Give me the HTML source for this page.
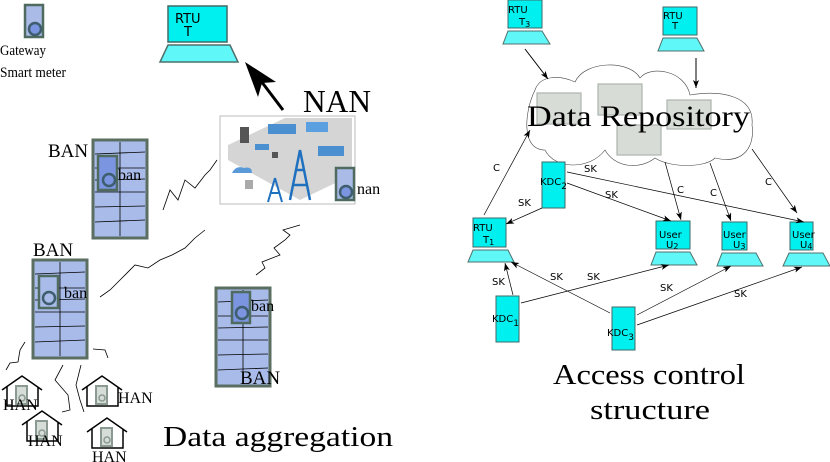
<!DOCTYPE html>
<html><head><meta charset="utf-8"><style>
html,body{margin:0;padding:0;background:#fff;}
svg{display:block;}
.s{font-family:"Liberation Serif",serif;fill:#000;}
.a{font-family:"DejaVu Sans","Liberation Sans",sans-serif;fill:#000;}
</style></head><body>
<svg width="830" height="462" viewBox="0 0 830 462" xmlns="http://www.w3.org/2000/svg">
<defs>
<marker id="ah" markerWidth="8" markerHeight="6" refX="8" refY="3" orient="auto" markerUnits="userSpaceOnUse"><path d="M0,0 L8,3 L0,6 L2,3z" fill="#000"/></marker>
<g id="meter"><rect x="0" y="0" width="18" height="32" fill="#aabbe8" stroke="#4f6a5f" stroke-width="2.5"/><circle cx="10" cy="24" r="6" fill="#7b95e0" stroke="#3e5e70" stroke-width="2.5"/></g>
<g id="bld"><rect x="0" y="0" width="54" height="98" fill="#a9bce9" stroke="#5a6e62" stroke-width="3"/>
<line x1="27" y1="2" x2="27" y2="96" stroke="#000" stroke-width="0.8"/>
<path d="M2,14 L52,12 M2,28 L52,28 M2,40 L52,39 M2,52 L52,52 M2,67 L52,66 M2,82 L52,80" stroke="#000" stroke-width="0.8" fill="none"/></g>
<g id="house"><path d="M0,14 L20,0 L40,14 M5,11 V30 H36 V11" stroke="#000" stroke-width="1.5" fill="none"/><rect x="14" y="10" width="11" height="18" fill="#d6dcd8" stroke="#8a9a90" stroke-width="2"/><circle cx="20" cy="22" r="3" fill="none" stroke="#8a9a90" stroke-width="1.5"/></g>
</defs>

<!-- LEFT SIDE -->
<use href="#meter" x="25" y="5"/>
<text class="s" x="0" y="55" font-size="15" textLength="46" lengthAdjust="spacingAndGlyphs">Gateway</text>
<text class="s" x="0" y="77" font-size="15" textLength="66" lengthAdjust="spacingAndGlyphs">Smart meter</text>

<rect x="168" y="6" width="59" height="36" fill="#00f0f0" stroke="#3f6a66" stroke-width="1.5"/>
<text class="a" x="175" y="23" font-size="13">RTU</text>
<text class="a" x="184" y="36" font-size="13">T</text>
<path d="M168,45 L230,45 L238,62 L160,62z" fill="#5ff7f7" stroke="#4f706c" stroke-width="1.5"/>
<line x1="283" y1="110" x2="258" y2="77" stroke="#000" stroke-width="3"/>
<path d="M245,62 L276,82 L262,83 L258,97z" fill="#000"/>
<text class="s" x="303" y="112" font-size="32" textLength="68" lengthAdjust="spacingAndGlyphs">NAN</text>

<rect x="220" y="116" width="135" height="88" fill="#fff" stroke="#bbb" stroke-width="1"/>
<path d="M228,145 L285,118 L352,118 L352,175 L300,200 L228,160z" fill="#d5d5d5"/>
<rect x="240" y="127" width="9" height="16" fill="#555"/>
<rect x="255" y="144" width="14" height="6" fill="#4a90d0"/>
<rect x="268" y="124" width="28" height="10" fill="#4a90d0"/>
<rect x="306" y="122" width="22" height="10" fill="#5aa0e0"/>
<rect x="318" y="146" width="26" height="10" fill="#4a90d0"/>
<rect x="272" y="152" width="6" height="6" fill="#555"/>
<path d="M232,173 q4,-8 12,-5 q8,-2 8,5z" fill="#5a9ad8"/>
<rect x="245" y="180" width="8" height="9" fill="#aaa"/>
<path d="M300,150 L290,200 M300,150 L310,200 M293,185 L307,185 M296,170 L304,170" stroke="#2070c0" stroke-width="2.5" fill="none"/>
<path d="M275,178 L268,202 M275,178 L282,202 M271,193 L279,193" stroke="#2070c0" stroke-width="2" fill="none"/>
<use href="#meter" x="336" y="168"/>
<text class="s" x="357" y="194" font-size="16">nan</text>

<text class="s" x="48" y="157" font-size="19">BAN</text>
<use href="#bld" x="93" y="140"/>
<rect x="98" y="156" width="19" height="34" fill="#7b95e0" stroke="#4f6a5f" stroke-width="2.5"/>
<circle cx="109" cy="180" r="6" fill="#7b95e0" stroke="#3e5e70" stroke-width="2.5"/>
<text class="s" x="118" y="180" font-size="16">ban</text>

<text class="s" x="33" y="256" font-size="19">BAN</text>
<use href="#bld" x="33" y="260"/>
<rect x="39" y="276" width="19" height="32" fill="#a9bce9" stroke="#4f6a5f" stroke-width="2.5"/>
<circle cx="49" cy="298" r="6" fill="#a9bce9" stroke="#3e5e70" stroke-width="2.5"/>
<text class="s" x="64" y="298" font-size="16">ban</text>

<use href="#bld" x="216" y="288"/>
<rect x="232" y="292" width="18" height="31" fill="#7b95e0" stroke="#4f6a5f" stroke-width="2.5"/>
<circle cx="242" cy="313" r="6" fill="#7b95e0" stroke="#3e5e70" stroke-width="2.5"/>
<text class="s" x="251" y="311" font-size="16">ban</text>
<text class="s" x="240" y="384" font-size="19">BAN</text>

<g stroke="#000" stroke-width="0.8" fill="none">
<path d="M163,210 L170,190 L178,200 L185,180 L195,188 L205,175 L210,170 L217,160"/>
<path d="M100,297 L110,290 L120,280 L135,265 L148,268 L160,260 L172,255 L185,248 L195,238 L205,230"/>
<path d="M256,275 L265,268 L262,262 L280,255 L274,248 L285,240 L290,235 L283,230 L300,225"/>
<path d="M6,370 L10,363 L18,362 L20,350 L25,342"/>
<path d="M93,349 L105,350 L108,358"/>
<path d="M63,365 L55,380 L68,395 L70,410 L62,412"/>
<path d="M81,365 L76,385 L80,400 L84,412"/>
</g>
<use href="#house" x="2" y="376"/>
<text class="s" x="3" y="410" font-size="16">HAN</text>
<use href="#house" x="82" y="376"/>
<text class="s" x="118" y="403" font-size="16">HAN</text>
<use href="#house" x="22" y="411"/>
<text class="s" x="28" y="446" font-size="16">HAN</text>
<use href="#house" x="87" y="418"/>
<text class="s" x="92" y="462" font-size="16">HAN</text>
<text class="s" x="163" y="446" font-size="29" textLength="230" lengthAdjust="spacingAndGlyphs">Data aggregation</text>

<!-- RIGHT SIDE -->
<path d="M535,90 C540,75 560,75 575,82 C585,60 630,60 640,78 C650,65 685,70 690,95 C720,90 755,95 752,125 C755,145 745,165 715,158 C705,168 670,168 655,158 C640,170 615,168 605,150 C590,170 555,170 545,150 C520,150 525,110 535,90z" fill="none" stroke="#444" stroke-width="0.6"/>
<g fill="#d8dcd6" stroke="#aeb5ad" stroke-width="1.2">
<rect x="537" y="93" width="44" height="31"/>
<rect x="598" y="84" width="44" height="31"/>
<rect x="667" y="100" width="44" height="29"/>
<rect x="617" y="125" width="44" height="30"/>
</g>
<text class="s" x="527" y="126" font-size="30" textLength="223" lengthAdjust="spacingAndGlyphs">Data Repository</text>

<g fill="#00f0f0" stroke="#3f6a66" stroke-width="1">
<rect x="508" y="0" width="34" height="28"/>
<rect x="663" y="7" width="34" height="28"/>
<rect x="473" y="218" width="33" height="29"/>
<rect x="656" y="221" width="34" height="28"/>
<rect x="722" y="222" width="25" height="28"/>
<rect x="790" y="222" width="23" height="28"/>
<rect x="542" y="162" width="23" height="46"/>
<rect x="496" y="296" width="23" height="46"/>
<rect x="612" y="307" width="23" height="43"/>
</g>
<g fill="#5ff7f7" stroke="#4f706c" stroke-width="1">
<path d="M508,31 L542,31 L550,44 L503,44z"/>
<path d="M663,38 L697,38 L704,51 L658,51z"/>
<path d="M473,250 L508,250 L514,262 L468,262z"/>
<path d="M656,252 L690,252 L697,265 L651,265z"/>
<path d="M722,253 L756,253 L763,266 L717,266z"/>
<path d="M789,253 L823,253 L830,266 L783,266z"/>
</g>
<g class="a" font-size="10">
<text x="508" y="13">RTU</text><text x="519" y="25">T<tspan font-size="8" dy="2">3</tspan></text>
<text x="663" y="19">RTU</text><text x="672" y="29">T</text>
<text x="473" y="231">RTU</text><text x="483" y="243">T<tspan font-size="8" dy="2">1</tspan></text>
<text x="659" y="238">User</text><text x="666" y="248">U<tspan font-size="8" dy="1">2</tspan></text>
<text x="723" y="238">User</text><text x="733" y="248">U<tspan font-size="8" dy="1">3</tspan></text>
<text x="792" y="238">User</text><text x="800" y="248">U<tspan font-size="8" dy="1">4</tspan></text>
<text x="540" y="185">KDC<tspan font-size="9" dy="4">2</tspan></text>
<text x="492" y="322">KDC<tspan font-size="9" dy="4">1</tspan></text>
<text x="607" y="336">KDC<tspan font-size="9" dy="4">3</tspan></text>
</g>
<g stroke="#000" stroke-width="0.7" marker-end="url(#ah)">
<line x1="525" y1="49" x2="548" y2="79" stroke-width="1"/>
<line x1="696" y1="58" x2="696" y2="88" stroke-width="1"/>
<line x1="484" y1="215" x2="530" y2="130"/>
<line x1="542" y1="208" x2="506" y2="224"/>
<line x1="567" y1="183" x2="671" y2="221"/>
<line x1="567" y1="172" x2="804" y2="222"/>
<line x1="665" y1="162" x2="681" y2="220"/>
<line x1="710" y1="163" x2="731" y2="221"/>
<line x1="752" y1="149" x2="797" y2="213"/>
<line x1="513" y1="295" x2="505" y2="263"/>
<line x1="521" y1="303" x2="669" y2="265"/>
<line x1="610" y1="313" x2="511" y2="262"/>
<line x1="637" y1="315" x2="731" y2="266"/>
<line x1="637" y1="325" x2="802" y2="267"/>
</g>
<g class="a" font-size="10">
<text x="493" y="171">C</text>
<text x="518" y="206">SK</text>
<text x="584" y="172">SK</text>
<text x="605" y="198">SK</text>
<text x="677" y="193">C</text>
<text x="710" y="196">C</text>
<text x="765" y="185">C</text>
<text x="492" y="285">SK</text>
<text x="550" y="280">SK</text>
<text x="587" y="280">SK</text>
<text x="660" y="291">SK</text>
<text x="734" y="297">SK</text>
</g>
<text class="s" x="553" y="384" font-size="29" textLength="192" lengthAdjust="spacingAndGlyphs">Access control</text>
<text class="s" x="590" y="419" font-size="29" textLength="120" lengthAdjust="spacingAndGlyphs">structure</text>
</svg>
</body></html>
